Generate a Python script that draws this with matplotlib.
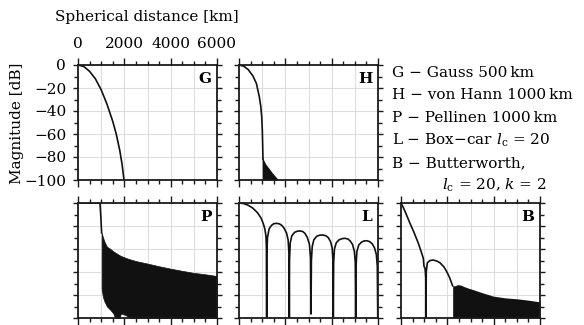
import matplotlib
matplotlib.use("Agg")
import matplotlib.pyplot as plt
from matplotlib.ticker import MultipleLocator

plt.rcParams['font.family'] = ['DejaVu Serif']
plt.rcParams['mathtext.fontset'] = 'dejavuserif'
plt.rcParams['font.size'] = 11

# ---------------- data (spherical distance km, magnitude dB) ----------------
g_km = [0, 250, 500, 750, 1000, 1250, 1500, 1650, 1800, 1900, 1985]
g_db = [0, -1.3, -5.5, -12, -21.5, -34, -49, -60, -74, -86, -100]

h_km = [0, 200, 400, 600, 750, 876, 940, 980, 1005, 1020, 1035]
h_db = [0, -1, -4, -9.5, -16, -27.5, -36, -45, -56, -68, -82]
h_env_km = [1000, 1150, 1300, 1450, 1600, 1700]
h_env_db = [-80, -86, -90, -94, -97.5, -100]

p_km = [0, 950, 985, 1020]
p_db = [0, 0, -12, -26]
p_env_km = [1020, 1080, 1150, 1250, 1400, 1525, 1600, 1800, 1850, 2000, 2100, 2250,
            2500, 2960, 3500, 3970, 4500, 4980, 5500, 6000]
p_up_db = [-26, -30, -34, -38, -40, -42, -43, -45.5, -46, -47.2, -48, -49,
           -50.5, -52.5, -55, -57, -59, -60.7, -62, -63.5]
p_low_db = [-75, -82, -86, -90, -93, -96, -100, -100, -96, -97, -98, -100,
            -100, -100, -100, -100, -100, -100, -100, -100]

l_km = [0, 200, 400, 600, 800, 950, 1050, 1120, 1165, 1185, 1195,
        1200, 1230, 1300, 1400, 1500, 1627, 1750, 1850, 1950, 2050, 2120, 2160, 2172,
        2180, 2210, 2280, 2400, 2520, 2633, 2750, 2850, 2950, 3040, 3090, 3108,
        3125, 3160, 3230, 3350, 3480, 3612, 3750, 3850, 3950, 4020, 4055, 4070,
        4085, 4120, 4200, 4320, 4450, 4575, 4700, 4800, 4900, 4980, 5020, 5036,
        5050, 5090, 5170, 5290, 5400, 5510, 5630, 5750, 5850, 5930, 5970, 5990]
l_db = [0, -0.5, -2, -4.5, -8.5, -13, -18, -23, -29, -40, -100,
        -45, -30, -22.5, -19.5, -18, -17.7, -18.2, -19.5, -22, -26, -32, -45, -100,
        -50, -35, -28.5, -25.5, -24.5, -24.3, -24.8, -26.5, -30, -36, -48, -96.5,
        -50, -38, -32, -29, -28, -27.8, -28.5, -30, -33.5, -39, -50, -100,
        -52, -40, -34.5, -32, -31, -30.7, -31.3, -33, -36, -42, -52, -100,
        -55, -42, -36.5, -34, -33, -32.8, -33.5, -35.5, -39, -45, -55, -100]

b_km = [0, 100, 200, 388, 550, 747, 850, 963, 993, 1040, 1070, 1079,
        1090, 1137, 1250, 1395, 1550, 1683, 1850, 1972, 2100, 2188, 2230]
b_db = [0, -4, -8.5, -17.7, -25, -35, -41, -48, -55, -57, -65, -100,
        -60, -52, -50, -49.6, -50.5, -52, -55.5, -59.6, -65, -69.8, -72]
b_up_km = [2230, 2330, 2450, 2600, 2700, 2900, 3120, 3500, 3985, 4500, 4990, 5500, 6000]
b_up_db = [-72, -72, -71, -71.5, -72.5, -74, -75.4, -78, -81, -82.5, -83.3, -84.5, -86]

panel_letters = ['G', 'H', 'P', 'L', 'B']
x_ticklabels = ['0', '2000', '4000', '6000']
y_ticklabels = ['0', '−20', '−40', '−60', '−80', '−100']
legend_lines = ['G − Gauss 500\u2009km',
                'H − von Hann 1000\u2009km',
                'P − Pellinen 1000\u2009km',
                'L − Box−car $l_\\mathrm{c}$ = 20',
                'B − Butterworth,',
                '$l_\\mathrm{c}$ = 20, $k$ = 2']

# ---------------- figure ----------------
W, H = 584, 325
fig = plt.figure(figsize=(W / 100, H / 100), dpi=100)

cols = [78, 239, 401]
pw = 139
rows = [(65, 180), (203, 318)]

def make_ax(col, row):
    x0 = cols[col]
    top, bot = rows[row]
    ax = fig.add_axes([x0 / W, 1 - bot / H, pw / W, (bot - top) / H])
    ax.set_xlim(0, 6000)
    ax.set_ylim(-100, 0)
    for v in range(1000, 6000, 1000):
        ax.axvline(v, color='#dddddd', lw=0.8, zorder=0)
    for v in range(-80, 0, 20):
        ax.axhline(v, color='#dddddd', lw=0.8, zorder=0)
    ax.xaxis.set_major_locator(MultipleLocator(2000))
    ax.xaxis.set_minor_locator(MultipleLocator(500))
    ax.yaxis.set_major_locator(MultipleLocator(20))
    ax.yaxis.set_minor_locator(MultipleLocator(10))
    ax.tick_params(which='both', direction='out', top=True, bottom=True,
                   left=True, right=True, labelbottom=False, labeltop=False,
                   labelleft=False, labelright=False, width=1.0, color='#1a1a1a')
    ax.tick_params(axis='x', which='major', length=5)
    ax.tick_params(axis='x', which='minor', length=3)
    ax.tick_params(axis='y', which='major', length=3.5)
    ax.tick_params(axis='y', which='minor', length=3)
    for s in ax.spines.values():
        s.set_linewidth(1.3)
        s.set_color('#1a1a1a')
    return ax

axG = make_ax(0, 0)
axH = make_ax(1, 0)
axP = make_ax(0, 1)
axL = make_ax(1, 1)
axB = make_ax(2, 1)

lw = 1.2
c = '#111111'
axG.plot(g_km, g_db, color=c, lw=lw)
axH.plot(h_km, h_db, color=c, lw=lw)
axH.fill_between(h_env_km, h_env_db, -100, color=c, lw=0)
axP.plot(p_km, p_db, color=c, lw=lw)
axP.fill_between(p_env_km, p_up_db, p_low_db, color=c, lw=0.5, edgecolor=c)
axL.plot(l_km, l_db, color=c, lw=lw)
axB.plot(b_km, b_db, color=c, lw=lw)
axB.fill_between(b_up_km, b_up_db, -100, color=c, lw=0)

for ax, letter in zip([axG, axH, axP, axL, axB], panel_letters):
    ax.text(0.96, 0.94, letter, transform=ax.transAxes, ha='right', va='top',
            fontweight='bold', fontsize=11)

# G axis labels
axG.set_xticks([0, 2000, 4000, 6000])
axG.set_xticklabels(x_ticklabels)
axG.tick_params(axis='x', which='major', labeltop=True, pad=5.2)
axG.set_yticks([0, -20, -40, -60, -80, -100])
axG.set_yticklabels(y_ticklabels)
axG.tick_params(axis='y', which='major', labelleft=True, pad=5)

fig.text(147 / W, 1 - 17 / H, 'Spherical distance [km]', ha='center', va='center')
fig.text(17 / W, 1 - 123 / H, 'Magnitude [dB]', ha='center', va='center', rotation=90)

baselines = [76.7, 99.3, 122, 144.6, 167.2, 189.8]
for i, (txt, yb) in enumerate(zip(legend_lines, baselines)):
    x = 392 if i < 5 else 442
    fig.text(x / W, 1 - yb / H, txt, ha='left', va='baseline')

fig.savefig('out.png', dpi=100)
